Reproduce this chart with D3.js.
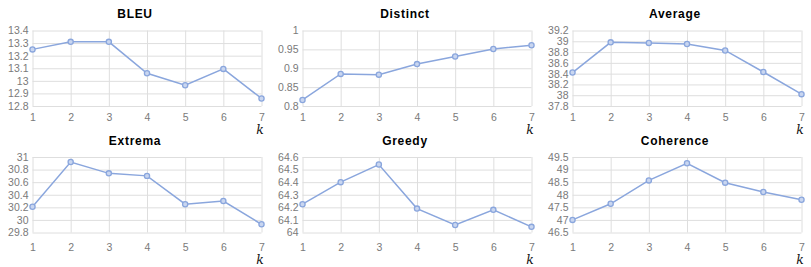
<!DOCTYPE html>
<html>
<head>
<meta charset="utf-8">
<script src="https://cdn.jsdelivr.net/npm/d3@7"></script>
<style>
  body { margin: 0; background: #fff; }
  svg { display: block; }
  .grid line { stroke: #dedede; stroke-width: 1; }
  .tick text { fill: #7a7a7a; font-family: "Liberation Sans", Arial, sans-serif; font-size: 10.5px; }
  .title { font-family: "Liberation Sans", Arial, sans-serif; font-weight: bold; font-size: 12px; letter-spacing: 0.7px; fill: #000; }
  .klabel { font-family: "DejaVu Serif", serif; font-style: italic; font-size: 12.5px; fill: #111; }
</style>
</head>
<body>
<div id="chart"></div>
<script>
// k values on the x axis
var ks = [1, 2, 3, 4, 5, 6, 7];

// metric values
var bleu      = [13.25, 13.31, 13.31, 13.06, 12.965, 13.095, 12.86];
var distinct  = [0.816, 0.885, 0.883, 0.911, 0.931, 0.951, 0.961];
var average   = [38.42, 38.98, 38.97, 38.95, 38.83, 38.43, 38.02];
var extrema   = [30.21, 30.92, 30.74, 30.70, 30.25, 30.30, 29.93];
var greedy    = [64.225, 64.40, 64.54, 64.19, 64.06, 64.18, 64.045];
var coherence = [47.0, 47.64, 48.57, 49.25, 48.48, 48.11, 47.8];

// y ticks per panel
var bleuTicks      = [12.8, 12.9, 13, 13.1, 13.2, 13.3, 13.4];
var distinctTicks  = [0.8, 0.85, 0.9, 0.95, 1];
var averageTicks   = [37.8, 38, 38.2, 38.4, 38.6, 38.8, 39, 39.2];
var extremaTicks   = [29.8, 30, 30.2, 30.4, 30.6, 30.8, 31];
var greedyTicks    = [64, 64.1, 64.2, 64.3, 64.4, 64.5, 64.6];
var coherenceTicks = [46.5, 47, 47.5, 48, 48.5, 49, 49.5];

var panels = [
    {title: "BLEU",      values: bleu,      ticks: bleuTicks,      col: 0, row: 0},
    {title: "Distinct",  values: distinct,  ticks: distinctTicks,  col: 1, row: 0},
    {title: "Average",   values: average,   ticks: averageTicks,   col: 2, row: 0},
    {title: "Extrema",   values: extrema,   ticks: extremaTicks,   col: 0, row: 1},
    {title: "Greedy",    values: greedy,    ticks: greedyTicks,    col: 1, row: 1},
    {title: "Coherence", values: coherence, ticks: coherenceTicks, col: 2, row: 1}
];

var width = 811, height = 267;
var lineColor = "#8aa6dd";

var svg = d3.select("#chart").append("svg")
    .attr("width", width)
    .attr("height", height);

// layout of each panel (plot area relative to the panel's origin)
var colX = [0, 270, 540];
var rows = [
    {top: 30.5, bottom: 106, title: 18, xlab: 120.5, k: 134},
    {top: 157, bottom: 232.5, title: 145, xlab: 250.5, k: 264}
];

panels.forEach(function(p) {
    var ox = colX[p.col];
    var r = rows[p.row];

    var x = d3.scaleLinear().domain([1, 7]).range([ox + 32.5, ox + 261.5]);
    var y = d3.scaleLinear()
        .domain(d3.extent(p.ticks))
        .range([r.bottom, r.top]);

    var g = svg.append("g");

    // horizontal gridlines + y labels
    g.append("g")
        .attr("class", "grid")
        .attr("transform", "translate(" + (ox + 32.5) + ",0)")
        .call(d3.axisLeft(y).tickValues(p.ticks).tickSize(-229).tickPadding(4)
            .tickFormat(d3.format("")))
        .call(function(a) { a.select(".domain").remove(); });

    // vertical gridlines + x labels
    g.append("g")
        .attr("class", "grid")
        .attr("transform", "translate(0," + r.bottom + ")")
        .call(d3.axisBottom(x).tickValues(ks).tickSize(-(r.bottom - r.top)).tickPadding(0)
            .tickFormat(d3.format("d")))
        .call(function(a) {
            a.select(".domain").remove();
            a.selectAll(".tick text").attr("y", r.xlab - r.bottom).attr("dy", 0);
        });

    // title
    g.append("text")
        .attr("class", "title")
        .attr("x", ox + 135)
        .attr("y", r.title)
        .attr("text-anchor", "middle")
        .text(p.title);

    // k label
    g.append("text")
        .attr("class", "klabel")
        .attr("x", ox + 260)
        .attr("y", r.k)
        .attr("text-anchor", "middle")
        .text("k");

    var line = d3.line()
        .x(function(d, i) { return x(ks[i]); })
        .y(function(d) { return y(d); });

    g.append("path")
        .datum(p.values)
        .attr("fill", "none")
        .attr("stroke", lineColor)
        .attr("stroke-width", 1.5)
        .attr("d", line);

    g.selectAll("circle")
        .data(p.values)
        .enter().append("circle")
        .attr("cx", function(d, i) { return x(ks[i]); })
        .attr("cy", function(d) { return y(d); })
        .attr("r", 2.6)
        .attr("fill", "#c9d6f0")
        .attr("stroke", lineColor)
        .attr("stroke-width", 1.3);
});
</script>
</body>
</html>
